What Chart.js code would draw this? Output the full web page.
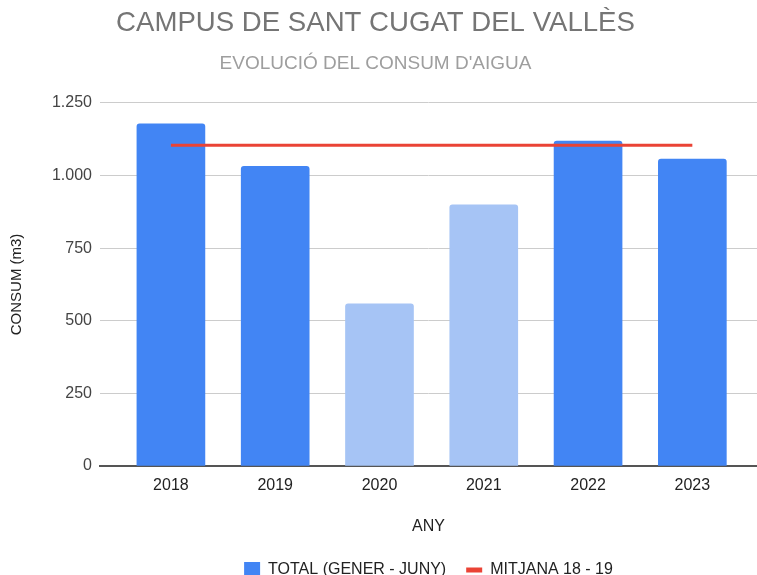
<!DOCTYPE html>
<html lang="ca">
<head>
<meta charset="utf-8">
<title>Consum d'aigua - Campus de Sant Cugat del Vallès</title>
<script src="https://cdn.jsdelivr.net/npm/chart.js@4/dist/chart.umd.min.js"></script>
<style>
  html, body { margin: 0; padding: 0; background: #fff; }
  #wrap { width: 757px; height: 575px; }
</style>
</head>
<body>
<div id="wrap"><canvas id="consumChart" width="757" height="575"></canvas></div>
<script>
const anys = ['2018', '2019', '2020', '2021', '2022', '2023'];
const consumTotal = [1178, 1032, 558, 899, 1119, 1057];
const mitjana1819 = [1104, 1104, 1104, 1104, 1104, 1104];
const ticksConsum = [0, 250, 500, 750, 1000, 1250];

const BLAU = '#4285f4';
const BLAU_CLAR = '#a6c4f5';
const VERMELL = '#ea4335';
const FONT = '"Liberation Sans", Arial, sans-serif';

// 2020 i 2021 (anys de pandèmia) en un to més clar
const colorsBarres = anys.map(a => (a === '2020' || a === '2021') ? BLAU_CLAR : BLAU);

function formatNum(v) {
    return String(v).replace(/\B(?=(\d{3})+(?!\d))/g, '.');
}

const ctx = document.getElementById('consumChart').getContext('2d');
const chart = new Chart(ctx, {
    data: {
        datasets: [{
            type: 'bar',
            label: 'TOTAL (GENER - JUNY)',
            data: consumTotal.map((v, i) => ({ x: i, y: v })),
            backgroundColor: colorsBarres,
            borderRadius: 3,
            borderSkipped: 'start',
            barThickness: 68,
            order: 2
        }, {
            type: 'line',
            label: 'MITJANA 18 - 19',
            data: mitjana1819.map((v, i) => ({ x: i, y: v })),
            borderColor: VERMELL,
            backgroundColor: VERMELL,
            borderWidth: 3,
            pointRadius: 0,
            fill: false,
            order: 1
        }]
    },
    options: {
        responsive: false,
        animation: false,
        devicePixelRatio: 1,
        layout: {
            padding: { left: -6, right: 0, top: 0, bottom: -13 }
        },
        plugins: {
            title: {
                display: true,
                text: 'CAMPUS DE SANT CUGAT DEL VALLÈS',
                color: '#757575',
                font: { family: FONT, size: 27.6, weight: 'normal' },
                padding: { top: 7, bottom: 12 }
            },
            subtitle: {
                display: true,
                text: "EVOLUCIÓ DEL CONSUM D'AIGUA",
                color: '#9e9e9e',
                font: { family: FONT, size: 19, weight: 'normal' },
                padding: { top: 0, bottom: 28 }
            },
            legend: {
                position: 'bottom',
                fullSize: false,
                labels: {
                    usePointStyle: true,
                    pointStyleWidth: 16,
                    boxHeight: 16,
                    padding: 20,
                    color: '#222',
                    font: { family: FONT, size: 16 },
                    generateLabels: (c) => [
                        { text: c.data.datasets[0].label, fillStyle: BLAU, strokeStyle: BLAU, lineWidth: 0, pointStyle: 'rect', fontColor: '#222', datasetIndex: 0 },
                        { text: c.data.datasets[1].label, fillStyle: VERMELL, strokeStyle: VERMELL, lineWidth: 5, pointStyle: 'line', fontColor: '#222', datasetIndex: 1 }
                    ]
                }
            },
            tooltip: { enabled: false }
        },
        scales: {
            x: {
                type: 'linear',
                offset: false,
                min: -0.68,
                max: 5.62,
                z: 1,
                afterBuildTicks: (axis) => {
                    axis.ticks = anys.map((a, i) => ({ value: i }));
                },
                afterFit: (scale) => { scale.height = 76; },
                ticks: {
                    callback: (v) => anys[v],
                    color: '#222',
                    font: { family: FONT, size: 16 },
                    padding: 10,
                    maxRotation: 0,
                    autoSkip: false
                },
                grid: { display: false, drawTicks: false, offset: false },
                border: { display: true, color: '#555', width: 2 },
                title: {
                    display: true,
                    text: 'ANY',
                    color: '#222',
                    font: { family: FONT, size: 16 },
                    padding: { top: 0, bottom: 6 }
                }
            },
            y: {
                min: 0,
                max: 1250,
                afterBuildTicks: (axis) => {
                    axis.ticks = ticksConsum.map(v => ({ value: v }));
                },
                afterFit: (scale) => { scale.width = 106; },
                ticks: {
                    callback: (v) => formatNum(v),
                    color: '#444',
                    font: { family: FONT, size: 16 },
                    padding: 8
                },
                grid: { color: '#cccccc', lineWidth: 1, drawTicks: false },
                border: { display: false },
                title: {
                    display: true,
                    text: 'CONSUM (m3)',
                    color: '#222',
                    font: { family: FONT, size: 15 },
                    padding: { top: 14, bottom: 0 }
                }
            }
        }
    }
});
</script>
</body>
</html>
